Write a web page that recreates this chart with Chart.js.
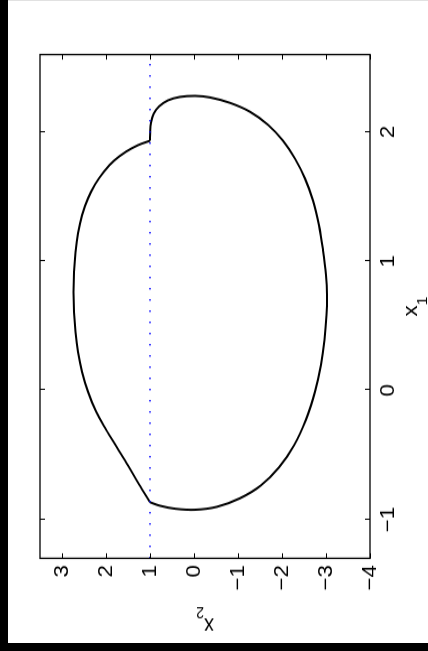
<!DOCTYPE html>
<html>
<head>
<meta charset="utf-8">
<script src="https://cdn.jsdelivr.net/npm/chart.js@4/dist/chart.umd.min.js"></script>
<style>
  html, body { margin: 0; padding: 0; background: #000; width: 428px; height: 651px; overflow: hidden; }
  /* figure is laid out landscape, then turned a quarter to the left */
  #fig {
    position: absolute; left: 8px; top: 0;
    width: 574px; height: 420px; background: #fff;
    transform-origin: 0 0;
    transform: translate(0, 643px) rotate(-90deg) scale(1.12, 1);
  }
</style>
</head>
<body>
<div id="fig"><canvas id="plot" width="574" height="420"></canvas></div>
<script>
// trajectory on the x2 >= 1 side (top kink -> bottom kink)
var leftX1 = [1.933, 1.898, 1.848, 1.779, 1.694, 1.594, 1.486, 1.355, 1.216, 1.069, 0.915, 0.761,
              0.607, 0.453, 0.298, 0.144, -0.010, -0.164, -0.303, -0.442, -0.581, -0.727, -0.866];
var leftX2 = [1.000, 1.273, 1.545, 1.818, 2.045, 2.250, 2.409, 2.545, 2.636, 2.693, 2.727, 2.739,
              2.727, 2.693, 2.636, 2.545, 2.409, 2.227, 2.000, 1.750, 1.500, 1.250, 1.000];

// trajectory on the x2 <= 1 side (bottom kink -> round -> top kink)
var rightX1 = [-0.866, -0.893, -0.916, -0.924, -0.901, -0.835, -0.735, -0.596, -0.426, -0.226, -0.010,
               0.198, 0.391, 0.584, 0.738, 0.892, 1.085, 1.278, 1.470, 1.640, 1.794, 1.933, 2.056,
               2.157, 2.226, 2.268, 2.280, 2.272, 2.245, 2.199, 2.141, 2.072, 2.002, 1.933];
var rightX2 = [1.000, 0.773, 0.432, -0.023, -0.523, -1.045, -1.523, -1.932, -2.273, -2.545, -2.750,
               -2.886, -2.966, -3.011, -3.023, -3.000, -2.932, -2.841, -2.705, -2.523, -2.295, -2.023, -1.682,
               -1.273, -0.818, -0.364, -0.023, 0.318, 0.591, 0.795, 0.920, 0.977, 0.995, 1.000];

// switching line x2 = 1
var switchX1 = [-1.3, 2.6];
var switchX2 = [1, 1];

var x1Ticks = [-1, 0, 1, 2];
var x2Ticks = [-4, -3, -2, -1, 0, 1, 2, 3];

var FONT = 'Liberation Sans, Arial, Helvetica, sans-serif';

function pts(xs, ys) {
    var out = [];
    for (var i = 0; i < xs.length; ++i) out.push({x: xs[i], y: ys[i]});
    return out;
}

function fmt(v) {
    return v < 0 ? '\u2212' + Math.abs(v) : String(v);
}

// box with inward tick marks on all four sides, plus the axis names
var frame = {
    id: 'frame',
    afterDraw: function(chart) {
        var ctx = chart.ctx, a = chart.chartArea;
        var sx = chart.scales.x, sy = chart.scales.y;
        ctx.save();
        ctx.strokeStyle = '#000';
        ctx.lineWidth = 1.3;
        ctx.strokeRect(a.left, a.top, a.right - a.left, a.bottom - a.top);
        ctx.lineWidth = 1;
        ctx.beginPath();
        sx.ticks.forEach(function(t) {
            var p = Math.round(sx.getPixelForValue(t.value)) + 0.5;
            ctx.moveTo(p, a.bottom); ctx.lineTo(p, a.bottom - 5);
            ctx.moveTo(p, a.top); ctx.lineTo(p, a.top + 5);
        });
        sy.ticks.forEach(function(t) {
            var p = Math.round(sy.getPixelForValue(t.value)) + 0.5;
            ctx.moveTo(a.left, p); ctx.lineTo(a.left + 4.5, p);
            ctx.moveTo(a.right, p); ctx.lineTo(a.right - 4.5, p);
        });
        ctx.stroke();

        ctx.fillStyle = '#000';
        ctx.textBaseline = 'alphabetic';
        ctx.textAlign = 'left';
        function label(main, sub, x, y) {
            ctx.font = '20px ' + FONT;
            var wm = ctx.measureText(main).width;
            ctx.font = '14px ' + FONT;
            var ws = ctx.measureText(sub).width;
            var x0 = x - (wm + ws) / 2;
            ctx.font = '20px ' + FONT;
            ctx.fillText(main, x0, y);
            ctx.font = '14px ' + FONT;
            ctx.fillText(sub, x0 + wm, y + 10);
        }
        label('x', '1', (a.left + a.right) / 2, a.bottom + 47);
        ctx.translate(a.left - 54, (a.top + a.bottom) / 2);
        ctx.rotate(-Math.PI / 2);
        label('x', '2', 0, 0);
        ctx.restore();
    }
};

new Chart(document.getElementById('plot'), {
    type: 'scatter',
    data: {
        datasets: [
            {
                data: pts(switchX1, switchX2),
                showLine: true,
                borderColor: '#0000ff',
                borderWidth: 1.4,
                borderDash: [1.4, 8.6],
                pointRadius: 0
            },
            {
                data: pts(leftX1, leftX2),
                showLine: true,
                borderColor: '#000',
                borderWidth: 2,
                tension: 0.35,
                pointRadius: 0
            },
            {
                data: pts(rightX1, rightX2),
                showLine: true,
                borderColor: '#000',
                borderWidth: 2,
                tension: 0.35,
                pointRadius: 0
            }
        ]
    },
    options: {
        responsive: false,
        animation: false,
        devicePixelRatio: 1,
        layout: { padding: { left: 0, top: 32, right: 48.6, bottom: 0 } },
        plugins: { legend: { display: false }, tooltip: { enabled: false } },
        scales: {
            x: {
                type: 'linear',
                min: -1.3,
                max: 2.6,
                grid: { display: false, drawTicks: false },
                border: { display: false },
                afterBuildTicks: function(s) { s.ticks = x1Ticks.map(function(v) { return {value: v}; }); },
                afterFit: function(s) { s.height = 58; },
                ticks: {
                    color: '#000',
                    padding: 6,
                    maxRotation: 0,
                    font: { family: FONT, size: 20 },
                    callback: fmt
                }
            },
            y: {
                type: 'linear',
                min: -4,
                max: 3.5,
                grid: { display: false, drawTicks: false },
                border: { display: false },
                afterBuildTicks: function(s) { s.ticks = x2Ticks.map(function(v) { return {value: v}; }); },
                afterFit: function(s) { s.width = 75.6; },
                ticks: {
                    color: '#000',
                    padding: 6,
                    font: { family: FONT, size: 20 },
                    callback: fmt
                }
            }
        }
    },
    plugins: [frame]
});
</script>
</body>
</html>
